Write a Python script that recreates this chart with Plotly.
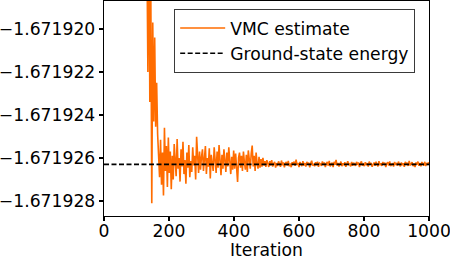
import plotly.graph_objects as go

# Ground-state energy (reference line)
ground_state_energy = -1.6719263

# VMC estimate: one value every 3 iterations, stored as offsets from the
# ground-state energy in units of 1e-8.
iterations = list(range(0, 1000, 3))

vmc_offset_1e8 = [
    # iterations 0..129 (above the visible range)
    61000, 42000, 35500, 27800, 23900, 19100, 16400, 14800, 12300, 10900,
    9800, 8700, 7600, 7100, 6300, 5900, 5200, 4800, 4500, 4100,
    3800, 3500, 3300, 3050, 2800, 2650, 2450, 2300, 2150, 2000,
    1900, 1780, 1690, 1600, 1500, 1430, 1360, 1300, 1240, 1180,
    1120, 1060, 1010, 960,
    # 132..207
    1000, 430, 1250, 290, 820, -181, 660, 200, 590, 175,
    380, 140, 30, -60, 115, -95, 55, -145, 170, -30,
    85, -105, 125, -40, 60, -115,
    # 210..300
    40, -70, 95, 10, -55, 118, -20, 30, -80, 70,
    -10, 105, -45, 20, -90, 55, -15, 90, -60, 15,
    -35, 80, -5, 40, -70, 128, 5, -40, 60, -25,
    35,
    # 303..399
    70, -30, 15, 85, -45, 30, -10, 75, -65, 45,
    5, -30, 80, 20, -40, 60, -15, 90, 10, -50,
    45, -20, 70, 0, -35, 55, -10, 80, 25, -45,
    35, -25, 65,
    # 402..501
    -20, 50, -40, -82, 30, 55, -15, 40, -30, 60,
    10, -25, 45, -35, 65, 15, -20, 50, 88, -10,
    40, -30, 55, 5, -20, 35, -15, 25, -10, 30,
    -5, 15, -12, 20,
    # 504..999
    8, -12, 15, -5, 20, -10, 3, 12, -15, 6,
    -8, 14, 2, -11, 18, -4, 9, -14, 5, 11,
    -6, 16, -9, 4, -13, 10, 1, 13, -7, 22,
    -3, 7, -12, 11, 0, -8, 15, -5, 6, -10,
    12, -2, 8, -14, 5, 17, -6, 3, -9, 10,
    -4, 13, -11, 6, 2, -7, 14, -3, 9, -12,
    4, 11, -6, 16, -9, 1, 8, -13, 12, -2,
    21, -5, 7, -10, 3, 13, -8, 5, -4, 10,
    -11, 6, 15, -3, 2, -9, 11, -6, 8, 0,
    -7, 12, -2, 9, -12, 4, 14, -5, 1, -8,
    10, -3, 6, -10, 13, -1, 7, -11, 3, 9,
    -6, 12, 0, -9, 15, -4, 5, -7, 11, -2,
    8, -12, 4, 10, -5, 14, -8, 2, 6, -10,
    11, -3, 7, -6, 13, 1, -9, 9, -4, 5,
    -11, 12, -2, 8, -7, 16, -5, 3, 10, -8,
    4, -12, 9, -1, 13, -6, 6, -9, 11, 2,
    -5, 12, -8, 7, -3, 10,
]

x_ticks = [0, 200, 400, 600, 800, 1000]
y_ticks = [-1.671928, -1.671926, -1.671924, -1.671922, -1.671920]
y_tick_labels = ["\u22121.671928", "\u22121.671926", "\u22121.671924",
                 "\u22121.671922", "\u22121.671920"]

vmc_energy = [ground_state_energy + v * 1e-8 for v in vmc_offset_1e8]

FONT = "DejaVu Sans"
FS = 17.2

fig = go.Figure()
fig.add_trace(go.Scatter(
    x=iterations[:len(vmc_energy)], y=vmc_energy, mode="lines",
    name="VMC estimate",
    line=dict(color="#ff6c00", width=1.6),
))
fig.add_trace(go.Scatter(
    x=[0, 1000], y=[ground_state_energy, ground_state_energy], mode="lines",
    name="Ground-state energy",
    line=dict(color="black", width=1.6, dash="5px,2.5px"),
))

fig.update_layout(
    width=450, height=260,
    margin=dict(l=104, r=21, t=1, b=44, pad=0),
    paper_bgcolor="white", plot_bgcolor="white",
    font=dict(family=FONT, size=FS, color="black"),
    showlegend=True,
    legend=dict(
        x=0.215, y=0.963, xanchor="left", yanchor="top",
        bgcolor="white", bordercolor="#3a3a3a", borderwidth=1.3,
        font=dict(family=FONT, size=FS, color="black"),
        tracegroupgap=0, itemwidth=45,
    ),
)
fig.update_xaxes(
    range=[0, 1000], tickvals=x_ticks, ticktext=[str(t) for t in x_ticks],
    ticks="outside", ticklen=4, tickwidth=1.3, tickcolor="black",
    showline=True, linecolor="black", linewidth=1.3, mirror=True,
    showgrid=False, zeroline=False, automargin=False,
    ticklabeloverflow="allow", ticklabelstandoff=-5,
    title=dict(text="Iteration", font=dict(family=FONT, size=FS), standoff=0),
    tickfont=dict(family=FONT, size=FS, color="black"),
)
fig.update_yaxes(
    range=[-1.6719287, -1.6719187], tickvals=y_ticks, ticktext=y_tick_labels,
    ticks="outside", ticklen=4, tickwidth=1.3, tickcolor="black",
    showline=True, linecolor="black", linewidth=1.3, mirror=True,
    showgrid=False, zeroline=False, automargin=False,
    ticklabeloverflow="allow",
    tickfont=dict(family=FONT, size=FS, color="black"),
)

fig.write_html(
    "out.html",
    config={"displayModeBar": False, "staticPlot": True},
    post_script="document.body.style.margin='0';document.body.style.overflow='hidden';",
)
